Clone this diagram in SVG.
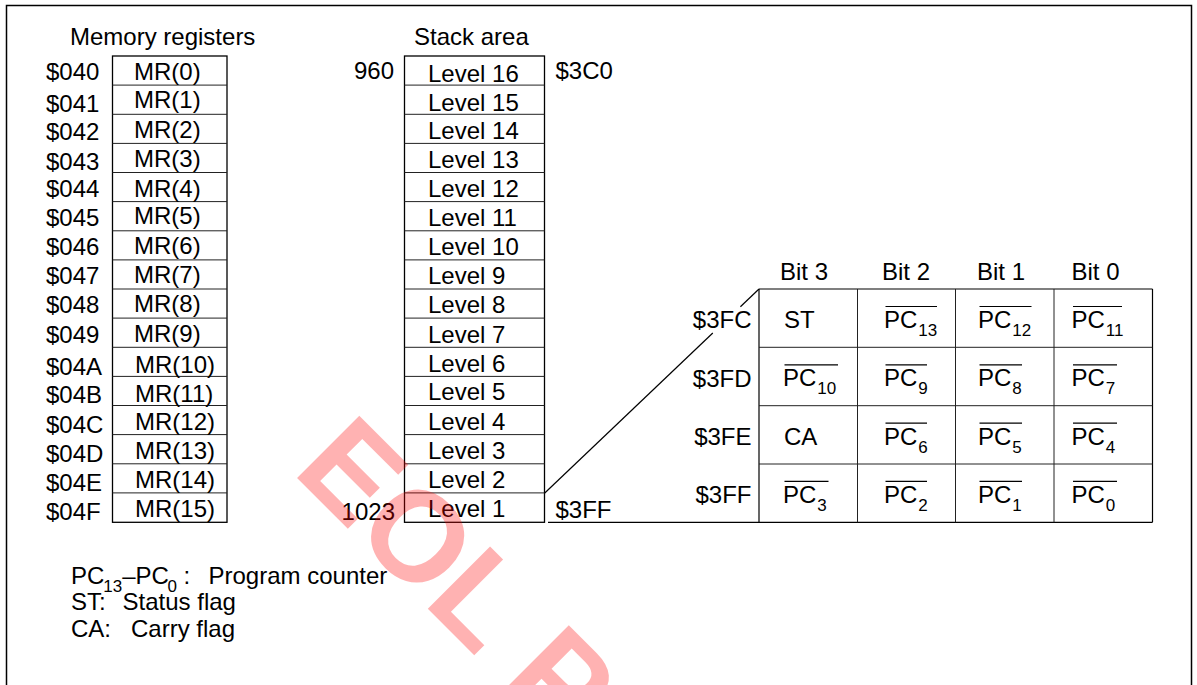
<svg xmlns="http://www.w3.org/2000/svg" width="1197" height="685" viewBox="0 0 1197 685">
<style>
text{font-family:"Liberation Sans",Arial,sans-serif;font-size:24px;fill:#000}
.sub{font-size:17px}
.box{fill:none;stroke:#000;stroke-width:1.3}
.sep{stroke:#222;stroke-width:1}
.ln{stroke:#000;stroke-width:1.2;fill:none}
.ov{stroke:#000;stroke-width:1.2}
.wm{font-family:"Liberation Sans",Arial,sans-serif;font-weight:bold;font-size:128px;fill:#ff0000;fill-opacity:0.3}
</style>
<rect x="0" y="0" width="1197" height="685" fill="#fff"/>
<rect id="frame" x="6.5" y="5.5" width="1185" height="720" fill="none" stroke="#000" stroke-width="1.5"/>

<g id="mem-registers">
<text x="70" y="45">Memory registers</text>
<rect class="box" x="112.5" y="56" width="114.5" height="466.3"/>
<g class="sep">
<line x1="112.5" y1="85.1" x2="227" y2="85.1"/><line x1="112.5" y1="114.3" x2="227" y2="114.3"/>
<line x1="112.5" y1="143.4" x2="227" y2="143.4"/><line x1="112.5" y1="172.5" x2="227" y2="172.5"/>
<line x1="112.5" y1="201.6" x2="227" y2="201.6"/><line x1="112.5" y1="230.8" x2="227" y2="230.8"/>
<line x1="112.5" y1="259.9" x2="227" y2="259.9"/><line x1="112.5" y1="289" x2="227" y2="289"/>
<line x1="112.5" y1="318.1" x2="227" y2="318.1"/><line x1="112.5" y1="347.3" x2="227" y2="347.3"/>
<line x1="112.5" y1="376.4" x2="227" y2="376.4"/><line x1="112.5" y1="405.5" x2="227" y2="405.5"/>
<line x1="112.5" y1="434.6" x2="227" y2="434.6"/><line x1="112.5" y1="463.8" x2="227" y2="463.8"/>
<line x1="112.5" y1="492.9" x2="227" y2="492.9"/>
</g>
<text x="46" y="80">$040</text><text x="46" y="111.5">$041</text><text x="46" y="140">$042</text><text x="46" y="169.5">$043</text>
<text x="46" y="197">$044</text><text x="46" y="225.5">$045</text><text x="46" y="255">$046</text><text x="46" y="284">$047</text>
<text x="46" y="313">$048</text><text x="46" y="342.5">$049</text><text x="46" y="375">$04A</text><text x="46" y="403">$04B</text>
<text x="46" y="432.5">$04C</text><text x="46" y="461.5">$04D</text><text x="46" y="491">$04E</text><text x="46" y="520">$04F</text>
<text x="134" y="80">MR(0)</text><text x="134" y="108">MR(1)</text><text x="134" y="137.5">MR(2)</text><text x="134" y="166.5">MR(3)</text>
<text x="134" y="196.5">MR(4)</text><text x="134" y="224">MR(5)</text><text x="134" y="254">MR(6)</text><text x="134" y="282.5">MR(7)</text>
<text x="134" y="312">MR(8)</text><text x="134" y="341.5">MR(9)</text><text x="135" y="373">MR(10)</text><text x="135" y="401.5">MR(11)</text>
<text x="135" y="430">MR(12)</text><text x="135" y="459">MR(13)</text><text x="135" y="488">MR(14)</text><text x="135" y="517">MR(15)</text>
</g>

<g id="stack-area">
<text x="414" y="45">Stack area</text>
<rect class="box" x="404.5" y="56" width="140" height="466.3"/>
<g class="sep">
<line x1="404.5" y1="85.1" x2="544.5" y2="85.1"/><line x1="404.5" y1="114.3" x2="544.5" y2="114.3"/>
<line x1="404.5" y1="143.4" x2="544.5" y2="143.4"/><line x1="404.5" y1="172.5" x2="544.5" y2="172.5"/>
<line x1="404.5" y1="201.6" x2="544.5" y2="201.6"/><line x1="404.5" y1="230.8" x2="544.5" y2="230.8"/>
<line x1="404.5" y1="259.9" x2="544.5" y2="259.9"/><line x1="404.5" y1="289" x2="544.5" y2="289"/>
<line x1="404.5" y1="318.1" x2="544.5" y2="318.1"/><line x1="404.5" y1="347.3" x2="544.5" y2="347.3"/>
<line x1="404.5" y1="376.4" x2="544.5" y2="376.4"/><line x1="404.5" y1="405.5" x2="544.5" y2="405.5"/>
<line x1="404.5" y1="434.6" x2="544.5" y2="434.6"/><line x1="404.5" y1="463.8" x2="544.5" y2="463.8"/>
<line x1="404.5" y1="492.9" x2="544.5" y2="492.9"/>
</g>
<text x="394" y="78.5" text-anchor="end">960</text>
<text x="555.5" y="78.5">$3C0</text>
<text x="395" y="520" text-anchor="end">1023</text>
<text x="555.5" y="517.5">$3FF</text>
<text x="428" y="81.5">Level 16</text><text x="428" y="110.5">Level 15</text><text x="428" y="139">Level 14</text><text x="428" y="168">Level 13</text>
<text x="428" y="197">Level 12</text><text x="428" y="225.5">Level 11</text><text x="428" y="255">Level 10</text><text x="428" y="284">Level 9</text>
<text x="428" y="313">Level 8</text><text x="428" y="342.5">Level 7</text><text x="428" y="371.5">Level 6</text><text x="428" y="400">Level 5</text>
<text x="428" y="429.5">Level 4</text><text x="428" y="458.5">Level 3</text><text x="428" y="487.5">Level 2</text><text x="428" y="517">Level 1</text>
</g>

<g id="connectors">
<line class="ln" x1="544.5" y1="493.3" x2="712.8" y2="333"/>
<line class="ln" x1="740.4" y1="306.7" x2="759" y2="289"/>
<line class="ln" x1="548" y1="522.3" x2="1152.5" y2="522.3"/>
</g>

<g id="bit-table">
<text x="780" y="279.5">Bit 3</text><text x="882" y="279.5">Bit 2</text><text x="977" y="279.5">Bit 1</text><text x="1071.5" y="279.5">Bit 0</text>
<line class="ln" x1="759" y1="289" x2="1152.5" y2="289"/>
<line class="ln" x1="759" y1="289" x2="759" y2="522.3"/>
<line class="ln" x1="1152.5" y1="289" x2="1152.5" y2="522.3"/>
<g class="sep">
<line x1="857.5" y1="289" x2="857.5" y2="522.3"/><line x1="955.5" y1="289" x2="955.5" y2="522.3"/><line x1="1054" y1="289" x2="1054" y2="522.3"/>
<line x1="759" y1="347.3" x2="1152.5" y2="347.3"/><line x1="759" y1="405.7" x2="1152.5" y2="405.7"/><line x1="759" y1="464" x2="1152.5" y2="464"/>
</g>
<text x="751.5" y="328" text-anchor="end">$3FC</text>
<text x="751.5" y="387" text-anchor="end">$3FD</text>
<text x="751.5" y="445" text-anchor="end">$3FE</text>
<text x="751.5" y="503" text-anchor="end">$3FF</text>
<!-- row 1 -->
<text x="784" y="328">ST</text>
<text x="884" y="328">PC<tspan class="sub" dx="1" dy="8">13</tspan></text><line class="ov" x1="885.5" y1="306.5" x2="937" y2="306.5"/>
<text x="978" y="328">PC<tspan class="sub" dx="1" dy="8">12</tspan></text><line class="ov" x1="979.5" y1="306.5" x2="1031.5" y2="306.5"/>
<text x="1071.5" y="328">PC<tspan class="sub" dx="1" dy="8">11</tspan></text><line class="ov" x1="1073" y1="306.5" x2="1122" y2="306.5"/>
<!-- row 2 -->
<text x="783" y="386.3">PC<tspan class="sub" dx="1" dy="8">10</tspan></text><line class="ov" x1="784.5" y1="364.8" x2="838" y2="364.8"/>
<text x="884" y="386.3">PC<tspan class="sub" dx="1" dy="8">9</tspan></text><line class="ov" x1="885.5" y1="364.8" x2="927" y2="364.8"/>
<text x="978" y="386.3">PC<tspan class="sub" dx="1" dy="8">8</tspan></text><line class="ov" x1="979.5" y1="364.8" x2="1022" y2="364.8"/>
<text x="1071.5" y="386.3">PC<tspan class="sub" dx="1" dy="8">7</tspan></text><line class="ov" x1="1073" y1="364.8" x2="1117" y2="364.8"/>
<!-- row 3 -->
<text x="784" y="444.6">CA</text>
<text x="884" y="444.6">PC<tspan class="sub" dx="1" dy="8">6</tspan></text><line class="ov" x1="885.5" y1="423.1" x2="927" y2="423.1"/>
<text x="978" y="444.6">PC<tspan class="sub" dx="1" dy="8">5</tspan></text><line class="ov" x1="979.5" y1="423.1" x2="1022" y2="423.1"/>
<text x="1071.5" y="444.6">PC<tspan class="sub" dx="1" dy="8">4</tspan></text><line class="ov" x1="1073" y1="423.1" x2="1117" y2="423.1"/>
<!-- row 4 -->
<text x="783" y="502.9">PC<tspan class="sub" dx="1" dy="8">3</tspan></text><line class="ov" x1="784.5" y1="481.4" x2="828.5" y2="481.4"/>
<text x="884" y="502.9">PC<tspan class="sub" dx="1" dy="8">2</tspan></text><line class="ov" x1="885.5" y1="481.4" x2="927" y2="481.4"/>
<text x="978" y="502.9">PC<tspan class="sub" dx="1" dy="8">1</tspan></text><line class="ov" x1="979.5" y1="481.4" x2="1022" y2="481.4"/>
<text x="1071.5" y="502.9">PC<tspan class="sub" dx="1" dy="8">0</tspan></text><line class="ov" x1="1073" y1="481.4" x2="1117" y2="481.4"/>
</g>

<g id="legend">
<text x="71" y="584">PC<tspan class="sub" dx="-1" dy="7.5">13</tspan><tspan dy="-7.5">–PC</tspan><tspan class="sub" dx="-1.5" dy="7.5">0</tspan><tspan dy="-7.5"> :</tspan></text>
<text x="208.5" y="584">Program counter</text>
<text x="71" y="610">ST:</text><text x="122.5" y="610">Status flag</text>
<text x="71" y="637">CA:</text><text x="131" y="637">Carry flag</text>
</g>

<g id="watermark">
<text class="wm" x="0" y="0" transform="translate(291,472) rotate(45)">EOL P</text>
</g>
</svg>
